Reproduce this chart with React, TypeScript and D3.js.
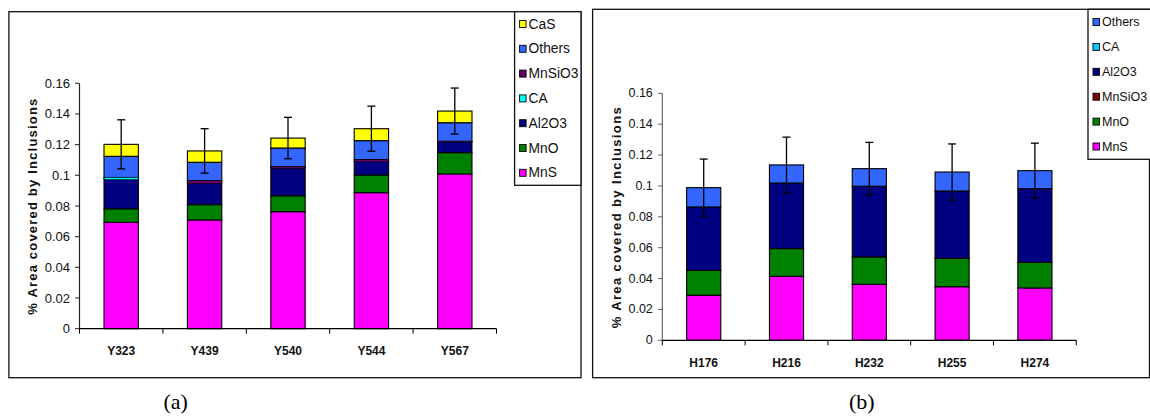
import React from "react";
import * as d3 from "d3";

// ---- Panel (a): Y samples ----
const catsA = ["Y323", "Y439", "Y540", "Y544", "Y567"];
const mnsA = [0.0694, 0.0709, 0.0763, 0.0887, 0.1009];
const mnoA = [0.0088, 0.0100, 0.0104, 0.0115, 0.0139];
const al2o3A = [0.0194, 0.0141, 0.0181, 0.0091, 0.0071];
const caA = [0.0010, 0.0000, 0.0000, 0.0000, 0.0000];
const mnsio3A = [0.0000, 0.0015, 0.0008, 0.0010, 0.0003];
const othersA = [0.0138, 0.0120, 0.0122, 0.0123, 0.0121];
const casA = [0.0078, 0.0074, 0.0065, 0.0078, 0.0076];
const errA = [0.0160, 0.0145, 0.0135, 0.0147, 0.0150];

// ---- Panel (b): H samples ----
const catsB = ["H176", "H216", "H232", "H255", "H274"];
const mnsB = [0.0292, 0.0415, 0.0363, 0.0347, 0.0339];
const mnoB = [0.0161, 0.0179, 0.0177, 0.0184, 0.0166];
const mnsio3B = [0.0000, 0.0000, 0.0000, 0.0000, 0.0000];
const al2o3B = [0.0411, 0.0425, 0.0458, 0.0436, 0.0477];
const caB = [0.0000, 0.0000, 0.0000, 0.0000, 0.0000];
const othersB = [0.0125, 0.0117, 0.0114, 0.0123, 0.0117];
const errB = [0.0185, 0.0180, 0.0170, 0.0182, 0.0178];

const yTicks = [0, 0.02, 0.04, 0.06, 0.08, 0.1, 0.12, 0.14, 0.16];

type Series = { name: string; color: string; values: number[] };

type PanelCfg = {
  cats: string[];
  series: Series[]; // bottom-to-top stacking order
  err: number[];
  frame: { x0: number; y0: number; x1: number; y1: number };
  plot: { x0: number; x1: number; yBottom: number; yTop: number };
  legend: { x0: number; y0: number; x1: number; y1: number; firstY: number; step: number; font: number };
  tickFont: number;
  titleX: number;
  titleY: number;
  titleLen: number;
  labelY: number;
  caption: string;
  captionX: number;
  yAxisColor: string;
};

const FONT = "'Liberation Sans', Arial, sans-serif";

const panelA: PanelCfg = {
  cats: catsA,
  series: [
    { name: "MnS", color: "#FF00FF", values: mnsA },
    { name: "MnO", color: "#008000", values: mnoA },
    { name: "Al2O3", color: "#000080", values: al2o3A },
    { name: "CA", color: "#00FFFF", values: caA },
    { name: "MnSiO3", color: "#660066", values: mnsio3A },
    { name: "Others", color: "#3366FF", values: othersA },
    { name: "CaS", color: "#FFFF00", values: casA },
  ],
  err: errA,
  frame: { x0: 8.9, y0: 11.7, x1: 581, y1: 377.7 },
  plot: { x0: 79.5, x1: 496.5, yBottom: 328.7, yTop: 83.3 },
  legend: { x0: 514.6, y0: 11.7, x1: 581, y1: 185.3, firstY: 24, step: 24.8, font: 13.8 },
  tickFont: 13,
  titleX: 32.6,
  titleY: 206.7,
  titleLen: 216,
  labelY: 350.7,
  caption: "(a)",
  captionX: 175.7,
  yAxisColor: "#222",
};

const panelB: PanelCfg = {
  cats: catsB,
  series: [
    { name: "MnS", color: "#FF00FF", values: mnsB },
    { name: "MnO", color: "#008000", values: mnoB },
    { name: "MnSiO3", color: "#800000", values: mnsio3B },
    { name: "Al2O3", color: "#000080", values: al2o3B },
    { name: "CA", color: "#00CCFF", values: caB },
    { name: "Others", color: "#3366FF", values: othersB },
  ],
  err: errB,
  frame: { x0: 592.6, y0: 9.3, x1: 1149.5, y1: 377.7 },
  plot: { x0: 662.3, x1: 1076.3, yBottom: 340.3, yTop: 93.3 },
  legend: { x0: 1088, y0: 9.3, x1: 1160, y1: 159.3, firstY: 22, step: 24.9, font: 12.5 },
  tickFont: 12.5,
  titleX: 616,
  titleY: 217.8,
  titleLen: 221,
  labelY: 362.7,
  caption: "(b)",
  captionX: 861.8,
  yAxisColor: "#666",
};

function Panel({ cfg }: { cfg: PanelCfg }) {
  const { plot, frame, legend } = cfg;
  const x = d3
    .scaleBand<string>()
    .domain(cfg.cats)
    .range([plot.x0, plot.x1])
    .paddingInner(0.588)
    .paddingOuter(0.294);
  const step = (plot.x1 - plot.x0) / cfg.cats.length;
  const y = d3.scaleLinear().domain([0, 0.16]).range([plot.yBottom, plot.yTop]);

  const keys = cfg.series.map((s) => s.name);
  const rows = cfg.cats.map((c, i) => {
    const r: Record<string, any> = { cat: c };
    cfg.series.forEach((s) => (r[s.name] = s.values[i]));
    return r;
  });
  const stacked = d3.stack<Record<string, any>>().keys(keys)(rows);
  const totals = rows.map((r) => d3.sum(keys, (k) => r[k] as number));
  const legendItems = [...cfg.series].reverse();

  // very thin slices are painted after the outlined ones so they stay visible
  const thin: { x: number; y: number; h: number; color: string; key: string }[] = [];

  return (
    <g>
      {/* outer frame */}
      <rect
        x={frame.x0}
        y={frame.y0}
        width={frame.x1 - frame.x0}
        height={frame.y1 - frame.y0}
        fill="white"
        stroke="#111"
        strokeWidth={1.3}
      />

      {/* stacked bars */}
      {stacked.map((layer, si) => (
        <g key={layer.key} fill={cfg.series[si].color}>
          {layer.map((d, i) => {
            const h = y(d[0]) - y(d[1]);
            if (h <= 0.01) return null;
            if (h < 2.5) {
              thin.push({ x: x(cfg.cats[i])!, y: y(d[1]), h, color: cfg.series[si].color, key: `${layer.key}-${i}` });
            }
            return (
              <rect
                key={i}
                x={x(cfg.cats[i])!}
                y={y(d[1])}
                width={x.bandwidth()}
                height={h}
                stroke="#000"
                strokeWidth={1.1}
              />
            );
          })}
        </g>
      ))}
      {thin.map((t) => (
        <rect key={t.key} x={t.x + 0.6} y={t.y + 0.3} width={x.bandwidth() - 1.2} height={t.h} fill={t.color} />
      ))}

      {/* error bars */}
      {totals.map((t, i) => {
        const cx = x(cfg.cats[i])! + x.bandwidth() / 2;
        const yt = y(t + cfg.err[i]);
        const yb = y(t - cfg.err[i]);
        return (
          <g key={i} stroke="#000" strokeWidth={1.3}>
            <line x1={cx} x2={cx} y1={yt} y2={yb} />
            <line x1={cx - 4} x2={cx + 4} y1={yt} y2={yt} />
            <line x1={cx - 4} x2={cx + 4} y1={yb} y2={yb} />
          </g>
        );
      })}

      {/* y axis */}
      <line x1={plot.x0} x2={plot.x0} y1={y(0)} y2={y(0.16)} stroke={cfg.yAxisColor} strokeWidth={1.2} />
      {yTicks.map((t) => (
        <g key={t}>
          <line x1={plot.x0 - 4.5} x2={plot.x0} y1={y(t)} y2={y(t)} stroke={cfg.yAxisColor} strokeWidth={1} />
          <text
            x={plot.x0 - 9.5}
            y={y(t)}
            textAnchor="end"
            dominantBaseline="central"
            fontFamily={FONT}
            fontSize={cfg.tickFont}
            fill="#111"
          >
            {String(t)}
          </text>
        </g>
      ))}

      {/* x axis */}
      <line x1={plot.x0} x2={plot.x1} y1={y(0)} y2={y(0)} stroke="#000" strokeWidth={1.2} />
      {d3.range(cfg.cats.length + 1).map((i) => (
        <line
          key={i}
          x1={plot.x0 + i * step}
          x2={plot.x0 + i * step}
          y1={y(0)}
          y2={y(0) + 5}
          stroke="#000"
          strokeWidth={1}
        />
      ))}
      {cfg.cats.map((c) => (
        <text
          key={c}
          x={x(c)! + x.bandwidth() / 2}
          y={cfg.labelY}
          textAnchor="middle"
          dominantBaseline="central"
          fontFamily={FONT}
          fontWeight="bold"
          fontSize={12}
          fill="#111"
        >
          {c}
        </text>
      ))}

      {/* y axis title */}
      <text
        transform={`translate(${cfg.titleX},${cfg.titleY}) rotate(-90)`}
        textAnchor="middle"
        dominantBaseline="central"
        fontFamily={FONT}
        fontWeight="bold"
        fontSize={13}
        textLength={cfg.titleLen}
        lengthAdjust="spacing"
        fill="#111"
      >
        % Area covered by Inclusions
      </text>

      {/* legend */}
      <rect
        x={legend.x0}
        y={legend.y0}
        width={legend.x1 - legend.x0}
        height={legend.y1 - legend.y0}
        fill="white"
        stroke="#111"
        strokeWidth={1.3}
      />
      {legendItems.map((s, i) => {
        const cy = legend.firstY + i * legend.step;
        return (
          <g key={s.name}>
            <rect x={legend.x0 + 5} y={cy - 3.5} width={6.5} height={7} fill={s.color} stroke="#000" strokeWidth={0.9} />
            <text
              x={legend.x0 + 14}
              y={cy}
              dominantBaseline="central"
              fontFamily={FONT}
              fontSize={legend.font}
              fill="#111"
            >
              {s.name}
            </text>
          </g>
        );
      })}

      {/* caption */}
      <text
        x={cfg.captionX}
        y={401.5}
        textAnchor="middle"
        dominantBaseline="central"
        fontFamily="'Liberation Serif', 'Times New Roman', serif"
        fontSize={22}
        fill="#000"
      >
        {cfg.caption}
      </text>
    </g>
  );
}

export default function App() {
  return (
    <svg
      width={1150}
      height={417}
      viewBox="0 0 1150 417"
      style={{ position: "absolute", left: 0, top: 0, background: "white" }}
    >
      <rect x={0} y={0} width={1150} height={417} fill="white" />
      <Panel cfg={panelA} />
      <Panel cfg={panelB} />
    </svg>
  );
}
